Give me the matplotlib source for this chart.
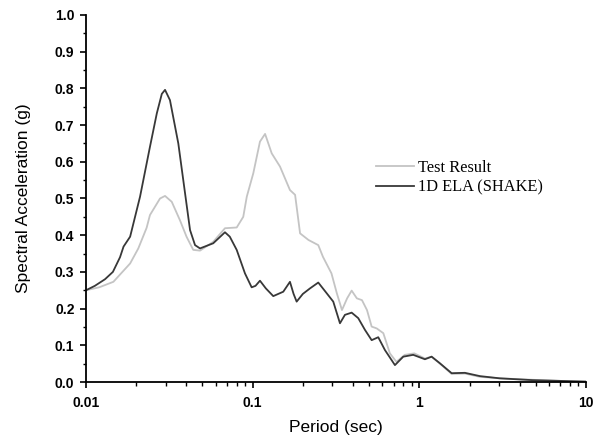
import matplotlib
matplotlib.use('Agg')
import matplotlib.pyplot as plt
import matplotlib.ticker as ticker
import numpy as np

# spectral acceleration (period in sec, SA in g)
test_period = [0.0100, 0.0120, 0.0146, 0.0184, 0.0206, 0.0231, 0.0242, 0.0278,
               0.0298, 0.0327, 0.0366, 0.0401, 0.0440, 0.0483, 0.0580, 0.0682,
               0.0802, 0.0878, 0.0922, 0.1009, 0.1106, 0.1187, 0.1301, 0.1459,
               0.1674, 0.1797, 0.1925, 0.2162, 0.2475, 0.2641, 0.2970, 0.3198,
               0.3434, 0.3688, 0.3926, 0.4218, 0.4528, 0.4852, 0.5175, 0.5551,
               0.6081, 0.6658, 0.7286, 0.818, 0.934, 1.080, 1.185, 1.329,
               1.562, 1.877, 2.31, 3.04, 4.80, 7.00, 10.0]
test_sa = [0.250, 0.258, 0.273, 0.323, 0.364, 0.420, 0.455, 0.500,
           0.507, 0.491, 0.441, 0.396, 0.360, 0.358, 0.382, 0.419,
           0.421, 0.450, 0.505, 0.569, 0.655, 0.676, 0.623, 0.587,
           0.523, 0.510, 0.405, 0.387, 0.373, 0.341, 0.296, 0.242,
           0.196, 0.228, 0.249, 0.228, 0.223, 0.196, 0.151, 0.146,
           0.133, 0.078, 0.055, 0.074, 0.078, 0.064, 0.069, 0.050,
           0.022, 0.023, 0.014, 0.010, 0.006, 0.003, 0.001]

shake_period = [0.0100, 0.0113, 0.0130, 0.0145, 0.0160, 0.0168, 0.0184, 0.0211,
                0.0242, 0.0266, 0.0285, 0.0298, 0.0319, 0.0358, 0.0393, 0.0421,
                0.0451, 0.0483, 0.0580, 0.0682, 0.0729, 0.0802, 0.0899, 0.0986,
                0.1040, 0.1106, 0.1200, 0.1329, 0.1526, 0.1674, 0.1760, 0.1836,
                0.2000, 0.2207, 0.2475, 0.2779, 0.3045, 0.3340, 0.3578, 0.3926,
                0.4300, 0.4718, 0.5175, 0.5669, 0.6218, 0.7139, 0.8006, 0.919,
                1.080, 1.185, 1.329, 1.562, 1.877, 2.31, 3.04, 4.80, 7.00, 10.0]
shake_sa = [0.250, 0.262, 0.280, 0.300, 0.340, 0.369, 0.396, 0.505,
            0.641, 0.732, 0.785, 0.796, 0.768, 0.650, 0.514, 0.414,
            0.373, 0.364, 0.378, 0.408, 0.396, 0.360, 0.296, 0.258,
            0.262, 0.276, 0.255, 0.234, 0.246, 0.273, 0.240, 0.219,
            0.240, 0.255, 0.271, 0.242, 0.219, 0.160, 0.183, 0.189,
            0.174, 0.142, 0.114, 0.122, 0.087, 0.046, 0.069, 0.074,
            0.062, 0.069, 0.051, 0.024, 0.025, 0.016, 0.010, 0.005, 0.003, 0.001]

plt.rcParams['font.family'] = ['Liberation Sans', 'DejaVu Sans']

fig = plt.figure(figsize=(6.01, 4.41), dpi=100)
ax = fig.add_axes([86 / 601, 59 / 441, 500 / 601, 367 / 441])

ax.plot(test_period, test_sa, color='#c4c4c4', lw=1.3, label='Test Result')
ax.plot(shake_period, shake_sa, color='#383838', lw=1.3, label='1D ELA (SHAKE)')

ax.set_xscale('log')
ax.set_xlim(0.01, 10)
ax.set_ylim(0, 1.0)

ax.xaxis.set_major_locator(ticker.FixedLocator([0.01, 0.1, 1, 10]))
ax.xaxis.set_major_formatter(ticker.FixedFormatter(['0.01', '0.1', '1', '10']))
ax.xaxis.set_minor_locator(ticker.LogLocator(base=10, subs=np.arange(2, 10)))
ax.xaxis.set_minor_formatter(ticker.NullFormatter())
ax.yaxis.set_major_locator(ticker.MultipleLocator(0.1))
ax.yaxis.set_minor_locator(ticker.MultipleLocator(0.05))
ax.yaxis.set_major_formatter(ticker.FormatStrFormatter('%.1f'))

for s in ['top', 'right']:
    ax.spines[s].set_visible(False)
for s in ['left', 'bottom']:
    ax.spines[s].set_linewidth(1.3)

ax.tick_params(which='major', direction='out', length=4.3, width=1.2, labelsize=10, pad=4)
ax.tick_params(which='minor', direction='out', length=2.4, width=1.0)
ax.tick_params(axis='x', which='minor', length=3)
ax.tick_params(axis='x', which='major', pad=6)
for lab in ax.get_xticklabels() + ax.get_yticklabels():
    lab.set_fontweight('bold')

ax.set_xlabel('Period (sec)', fontsize=12.5, labelpad=7)
ax.set_ylabel('Spectral Acceleration (g)', fontsize=12.5, labelpad=17)

ax.legend(frameon=False, loc='upper left', bbox_to_anchor=(376 / 601, 1 - 160 / 441),
          bbox_transform=fig.transFigure, borderpad=0, borderaxespad=0,
          handlelength=2.3, handletextpad=0.25, labelspacing=0.22,
          prop={'family': 'Liberation Serif', 'size': 11.8})

fig.savefig('out.png', dpi=100)
plt.close()
